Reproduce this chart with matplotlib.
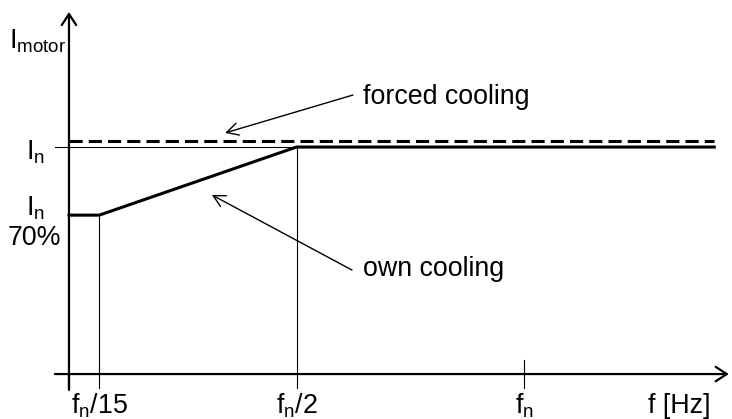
import matplotlib
matplotlib.use("Agg")
import matplotlib.pyplot as plt

plt.rcParams['font.family'] = ['Liberation Sans', 'DejaVu Sans']
plt.rcParams['mathtext.fontset'] = 'custom'
plt.rcParams['mathtext.rm'] = 'Liberation Sans'
plt.rcParams['mathtext.it'] = 'Liberation Sans:italic'

# frequency as fraction of f_n, current as fraction of I_n
f_end = 1.418
own_f = [0, 1 / 15, 1 / 2, f_end]
own_i = [0.7, 0.7, 1.0, 1.0]
forced_f = [0, f_end]
forced_i = [1.026, 1.026]
tick_f = [1 / 15, 1 / 2, 1]
tick_labels = [r'$\mathregular{f_n/15}$', r'$\mathregular{f_n/2}$', r'$\mathregular{f_n}$']

fig = plt.figure(figsize=(7.32, 4.19), dpi=100)
ax = fig.add_axes([0, 0, 1, 1])
ax.set_xlim(-0.1516, 1.457)
ax.set_ylim(-0.198, 1.6476)
ax.axis('off')

k = 'black'
arrow = dict(arrowstyle='->,head_length=0.4,head_width=0.26', color=k,
             mutation_scale=20, shrinkA=0, shrinkB=0)

# axes with open arrow heads
ax.annotate('', xy=(0, 1.595), xytext=(0, -0.07), arrowprops=dict(arrow, lw=1.6))
ax.annotate('', xy=(1.45, 0), xytext=(-0.031, 0), arrowprops=dict(arrow, lw=1.6))

# I_n reference line and guides
ax.plot([-0.031, f_end], [1, 1], color=k, lw=0.8)
ax.plot([tick_f[0], tick_f[0]], [own_i[1], -0.0617], color=k, lw=0.8)
ax.plot([tick_f[1], tick_f[1]], [own_i[2], -0.0617], color=k, lw=0.8)
ax.plot([0, 0], [0, -0.0617], color=k, lw=1.6)
ax.plot([tick_f[2], tick_f[2]], [0.0617, -0.0617], color=k, lw=0.8)

# curves
ax.plot(own_f, own_i, color=k, lw=2.2, solid_joinstyle='miter')
ax.plot(forced_f, forced_i, color=k, lw=2.2, dashes=(4.3, 2.0))

fs = 19.3
for f, lab in zip(tick_f, tick_labels):
    ax.text(f, -0.172, lab, ha='center', va='baseline', fontsize=fs)
ax.text(1.341, -0.172, 'f [Hz]', ha='center', va='baseline', fontsize=fs)

ax.text(-0.132, 1.436, r'$\mathregular{I_{motor}}$', ha='left', va='baseline', fontsize=fs)
ax.text(-0.0945, 0.947, r'$\mathregular{I_n}$', ha='left', va='baseline', fontsize=fs)
ax.text(-0.0945, 0.70, r'$\mathregular{I_n}$', ha='left', va='baseline', fontsize=fs)
ax.text(-0.134, 0.568, '70%', ha='left', va='baseline', fontsize=fs)

thin = dict(arrow, lw=1.0, arrowstyle='->,head_length=0.42,head_width=0.22')
ax.annotate('', xy=(0.343, 1.062), xytext=(0.624, 1.229), arrowprops=thin)
ax.text(0.646, 1.189, 'forced cooling', ha='left', va='baseline', fontsize=fs)
ax.annotate('', xy=(0.314, 0.789), xytext=(0.622, 0.458), arrowprops=thin)
ax.text(0.646, 0.432, 'own cooling', ha='left', va='baseline', fontsize=fs)

fig.savefig('out.png', dpi=100)
